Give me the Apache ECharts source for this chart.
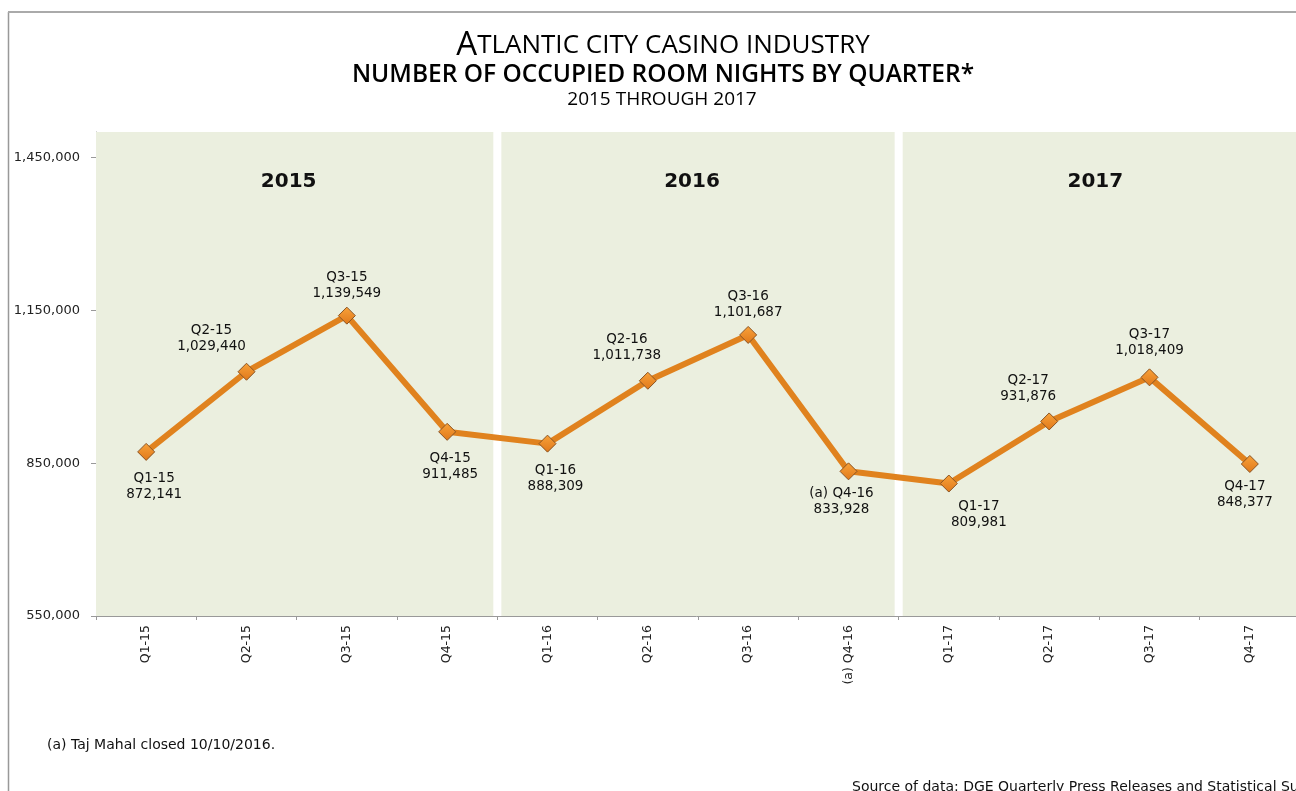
<!DOCTYPE html>
<html><head><meta charset="utf-8">
<script src="https://cdn.jsdelivr.net/npm/echarts@6/dist/echarts.min.js"></script>
<style>html,body{margin:0;padding:0;background:#fff}#c{width:1296px;height:791px}</style>
</head><body><div id="c"></div>
<script>
const categories = ['Q1-15','Q2-15','Q3-15','Q4-15','Q1-16','Q2-16','Q3-16','Q4-16','Q1-17','Q2-17','Q3-17','Q4-17'];
const axisLabels = ['Q1-15','Q2-15','Q3-15','Q4-15','Q1-16','Q2-16','Q3-16','(a) Q4-16','Q1-17','Q2-17','Q3-17','Q4-17'];
const values = [872141,1029440,1139549,911485,888309,1011738,1101687,833928,809981,931876,1018409,848377];
const yTicks = [550000, 850000, 1150000, 1450000];
const years = ['2015','2016','2017'];
const yearBands = [[0,3.96],[4.04,7.96],[8.04,12]];

// label placement (style)
const labelPlace = [
  ['bottom',[8,5]],['top',[-35,-3]],['top',[0,0]],['bottom',[3,5]],
  ['bottom',[8,5]],['top',[-21,-3]],['top',[0,0]],['bottom',[-7,0]],
  ['bottom',[30,1]],['top',[-21,-3]],['top',[0,-5]],['bottom',[-5,1]]
];

const fmt = v => v.toLocaleString('en-US');
const chart = echarts.init(document.getElementById('c'));
const FONT = 'DejaVu Sans';

const lineData = values.map((v,i)=>({
  value: v,
  label: {
    position: labelPlace[i][0], offset: labelPlace[i][1],
    formatter: axisLabels[i] + '\n' + fmt(v)
  }
}));

chart.setOption({
  animation: false,
  backgroundColor: '#fff',
  title: [
    {text: '{a|A}{b|TLANTIC CITY CASINO INDUSTRY}', left: 658, top: 24, textAlign: 'center',
     textStyle: {rich: {a: {fontFamily: 'Open Sans', fontSize: 33, color: '#000', fontWeight: 500}, b: {fontFamily: 'Open Sans', fontSize: 26, color: '#000', fontWeight: 500}}}},
    {text: 'NUMBER OF OCCUPIED ROOM NIGHTS BY QUARTER*', left: 658, top: 58, textAlign: 'center',
     textStyle: {fontFamily: 'Open Sans', fontSize: 24.5, fontWeight: 600, color: '#000'}},
    {text: '2015 THROUGH 2017', left: 657, top: 85, textAlign: 'center',
     textStyle: {fontFamily: 'Open Sans', fontSize: 19, fontWeight: 'normal', color: '#000'}}
  ],
  graphic: [
    {type: 'line', shape: {x1: 8.5, y1: 12, x2: 8.5, y2: 791}, style: {stroke: '#999', lineWidth: 1.5}},
    {type: 'line', shape: {x1: 8, y1: 12, x2: 1296, y2: 12}, style: {stroke: '#aaa', lineWidth: 2}},
    {type: 'text', left: 47, top: 738, style: {text: '(a) Taj Mahal closed 10/10/2016.', font: '14px "DejaVu Sans"', fill: '#111'}},
    {type: 'text', left: 852, top: 780, style: {text: 'Source of data: DGE Quarterly Press Releases and Statistical Summaries', font: '14px "DejaVu Sans"', fill: '#111'}}
  ],
  grid: {left: 96, top: 132, width: 1204, height: 484, containLabel: false, outerBoundsMode: 'none'},
  xAxis: [
    {type: 'category', data: categories, boundaryGap: true,
     axisLine: {lineStyle: {color: '#999', width: 1}},
     axisTick: {show: true, length: 4, lineStyle: {color: '#999'}},
     axisLabel: {rotate: 90, margin: 9, fontFamily: FONT, fontSize: 12.5, color: '#222',
       formatter: (v, i) => axisLabels[i]}},
    {type: 'value', min: 0, max: 12, show: false}
  ],
  yAxis: {type: 'value', min: 550000, max: 1500000,
    axisLine: {show: true, lineStyle: {color: '#999'}},
    axisTick: {show: true, length: 5, lineStyle: {color: '#999'}, customValues: yTicks},
    splitLine: {show: false},
    axisLabel: {fontFamily: FONT, fontSize: 13, color: '#222', margin: 16, customValues: yTicks,
      formatter: v => fmt(v)}
  },
  series: [
    {type: 'line', xAxisIndex: 1, data: [], silent: true,
     markArea: {silent: true, itemStyle: {color: '#EBEFDF'},
       label: {position: 'insideTop', distance: 40, offset: [-6, 0], fontFamily: FONT, fontSize: 20, fontWeight: 'bold', color: '#111'},
       data: yearBands.map((b,i)=>[{name: years[i], xAxis: b[0], yAxis: 550000}, {xAxis: b[1], yAxis: 1500000}])}
    },
    {type: 'line', data: lineData, z: 5,
     lineStyle: {color: '#E0821E', width: 6},
     symbol: 'diamond', symbolSize: 17,
     itemStyle: {color: new echarts.graphic.LinearGradient(0,0,0,1,[{offset:0,color:'#F8A23A'},{offset:1,color:'#E0781A'}]), borderColor: '#8A5424', borderWidth: 1},
     label: {show: true, fontFamily: FONT, fontSize: 13.5, color: '#111', lineHeight: 16, align: 'center'}
    }
  ]
});
</script></body></html>
